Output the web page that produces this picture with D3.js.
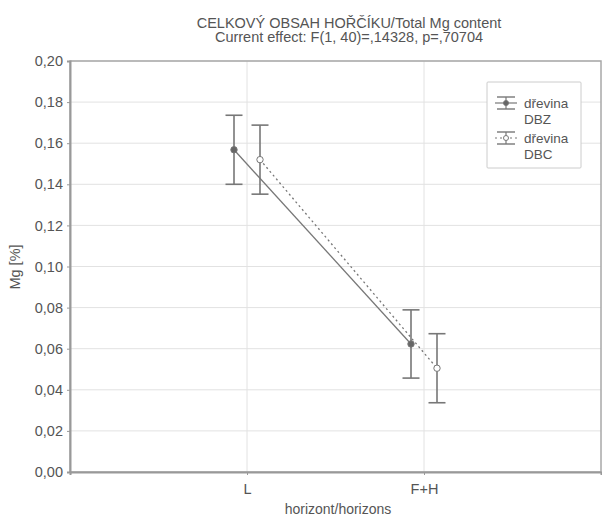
<!DOCTYPE html>
<html>
<head>
<meta charset="utf-8">
<script src="https://cdn.jsdelivr.net/npm/d3@7"></script>
<style>
  body { margin: 0; background: #fff; }
  svg { display: block; }
  text { font-family: "Liberation Sans", Arial, sans-serif; fill: #555; }
</style>
</head>
<body>
<svg id="chart" width="602" height="519"></svg>
<script>
// Horizons on the x axis
const categories = ["L", "F+H"];
// Mean Mg content per wood species, with ±confidence half-widths
const seriesNames = ["dřevina DBZ", "dřevina DBC"];
const meanDBZ = [0.1568, 0.0623];
const errDBZ  = [0.0168, 0.0166];
const meanDBC = [0.1520, 0.0505];
const errDBC  = [0.0168, 0.0168];
const yTicks = [0, 0.02, 0.04, 0.06, 0.08, 0.10, 0.12, 0.14, 0.16, 0.18, 0.20];

const series = [
  { name: "DBZ", means: meanDBZ, errs: errDBZ, dash: null, fill: "#666", shift: -13 },
  { name: "DBC", means: meanDBC, errs: errDBC, dash: "2,3", fill: "#fff", shift: 13 }
];

const FS = 14.5;
const svg = d3.select("#chart");
const m = { left: 70, right: 601, top: 61, bottom: 472 };

const x = d3.scalePoint().domain(categories).range([m.left, m.right]).padding(1.0);
const y = d3.scaleLinear().domain([0, 0.2]).range([m.bottom, m.top]);
const fmt = v => d3.format(".2f")(v).replace(".", ",");

// grid
const grid = svg.append("g");
grid.selectAll(".gy").data(yTicks).join("line")
  .attr("x1", m.left).attr("x2", m.right)
  .attr("y1", d => y(d)).attr("y2", d => y(d))
  .attr("stroke", "#e2e2e2").attr("stroke-width", 1);
grid.selectAll(".gx").data(categories).join("line")
  .attr("x1", d => x(d)).attr("x2", d => x(d))
  .attr("y1", m.top).attr("y2", m.bottom)
  .attr("stroke", "#e2e2e2").attr("stroke-width", 1);

// frame
svg.append("rect")
  .attr("x", m.left).attr("y", m.top)
  .attr("width", m.right - m.left).attr("height", m.bottom - m.top)
  .attr("fill", "none").attr("stroke", "#a8a8a8").attr("stroke-width", 1.5);

// axes
const yAxis = svg.append("g").attr("transform", `translate(${m.left},0)`)
  .call(d3.axisLeft(y).tickValues(yTicks).tickFormat(fmt).tickSize(3).tickPadding(4));
const xAxis = svg.append("g").attr("transform", `translate(0,${m.bottom})`)
  .call(d3.axisBottom(x).tickSize(3).tickPadding(9));
[yAxis, xAxis].forEach(a => {
  a.select(".domain").attr("stroke", "#999").attr("stroke-width", 2);
  a.selectAll(".tick line").attr("stroke", "#999");
  a.selectAll(".tick text").attr("font-size", FS).attr("fill", "#555")
    .attr("font-family", "Liberation Sans, Arial, sans-serif");
});

// lines, error bars, markers
series.forEach(s => {
  const pts = categories.map((c, i) => ({ cx: x(c) + s.shift, m: s.means[i], e: s.errs[i] }));
  svg.append("path")
    .attr("d", d3.line().x(d => d.cx).y(d => y(d.m))(pts))
    .attr("fill", "none").attr("stroke", "#777").attr("stroke-width", 1.3)
    .attr("stroke-dasharray", s.dash);
  const g = svg.append("g");
  pts.forEach(d => {
    g.append("line").attr("x1", d.cx).attr("x2", d.cx)
      .attr("y1", y(d.m + d.e)).attr("y2", y(d.m - d.e))
      .attr("stroke", "#777").attr("stroke-width", 1.6);
    [d.m + d.e, d.m - d.e].forEach(v => {
      g.append("line").attr("x1", d.cx - 8.5).attr("x2", d.cx + 8.5)
        .attr("y1", y(v)).attr("y2", y(v))
        .attr("stroke", "#777").attr("stroke-width", 1.6);
    });
    g.append("circle").attr("cx", d.cx).attr("cy", y(d.m)).attr("r", 3.2)
      .attr("fill", s.fill).attr("stroke", "#777").attr("stroke-width", 1);
  });
});

// legend
const lg = svg.append("g").attr("transform", "translate(487,82)");
lg.append("rect").attr("width", 94).attr("height", 86)
  .attr("fill", "#fff").attr("stroke", "#ccc").attr("stroke-width", 1).attr("rx", 1);
series.forEach((s, i) => {
  const oy = 21 + i * 35;
  const sx = 19;
  lg.append("line").attr("x1", sx - 9).attr("x2", sx + 9).attr("y1", oy - 6).attr("y2", oy - 6)
    .attr("stroke", "#777").attr("stroke-width", 1.4);
  lg.append("line").attr("x1", sx - 9).attr("x2", sx + 9).attr("y1", oy + 6).attr("y2", oy + 6)
    .attr("stroke", "#777").attr("stroke-width", 1.4);
  lg.append("line").attr("x1", sx).attr("x2", sx).attr("y1", oy - 6).attr("y2", oy + 6)
    .attr("stroke", "#777").attr("stroke-width", 1.2);
  lg.append("line").attr("x1", sx - 11).attr("x2", sx + 11).attr("y1", oy).attr("y2", oy)
    .attr("stroke", "#777").attr("stroke-width", 1.2).attr("stroke-dasharray", s.dash);
  lg.append("circle").attr("cx", sx).attr("cy", oy).attr("r", 2.5)
    .attr("fill", s.fill).attr("stroke", "#777");
  const parts = seriesNames[i].split(" ");
  lg.append("text").attr("x", 37).attr("y", oy + 5).attr("font-size", 13.5).text(parts[0]);
  lg.append("text").attr("x", 37).attr("y", oy + 21).attr("font-size", 13.5).text(parts[1]);
});

// titles
svg.append("text").attr("x", 349).attr("y", 27.5).attr("text-anchor", "middle")
  .attr("font-size", FS).text("CELKOVÝ OBSAH HOŘČÍKU/Total Mg content");
svg.append("text").attr("x", 349).attr("y", 42).attr("text-anchor", "middle")
  .attr("font-size", FS).text("Current effect: F(1, 40)=,14328, p=,70704");
svg.append("text").attr("x", 338).attr("y", 514).attr("text-anchor", "middle")
  .attr("font-size", 14).text("horizont/horizons");
svg.append("text").attr("transform", "translate(20,267) rotate(-90)")
  .attr("text-anchor", "middle").attr("font-size", FS).text("Mg [%]");
</script>
</body>
</html>
